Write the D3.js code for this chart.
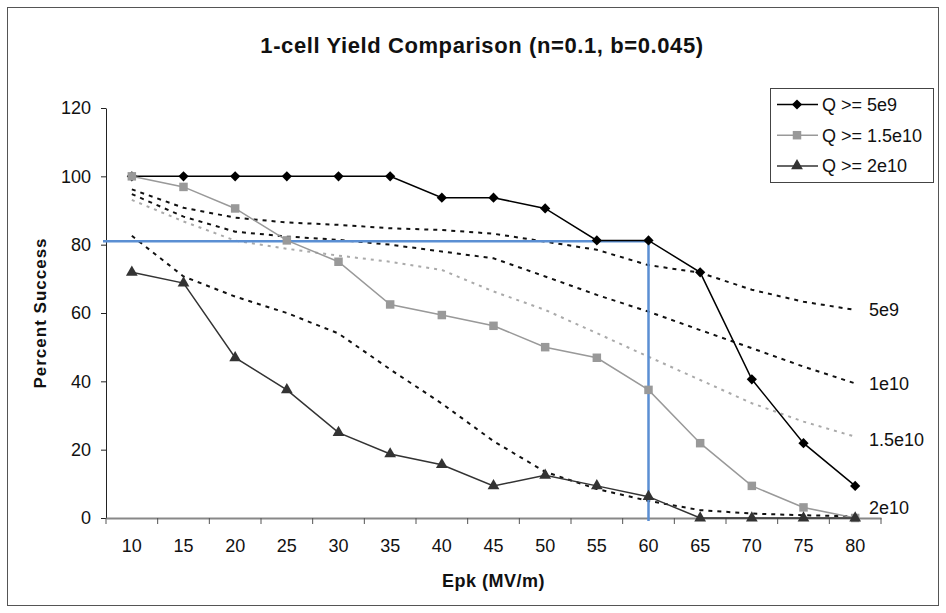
<!DOCTYPE html>
<html>
<head>
<meta charset="utf-8">
<script src="https://cdn.jsdelivr.net/npm/d3@7"></script>
<style>
  body { margin: 0; background: #fff; }
  text { font-family: "Liberation Sans", Arial, sans-serif; fill: #111; }
</style>
</head>
<body>
<svg id="chart" width="946" height="613"></svg>
<script>
// Epk categories (MV/m)
var epk = [10, 15, 20, 25, 30, 35, 40, 45, 50, 55, 60, 65, 70, 75, 80];
var yTicks = [0, 20, 40, 60, 80, 100, 120];

// measured yields (percent success)
var q5e9 = [100, 100, 100, 100, 100, 100, 93.75, 93.75, 90.6, 81.25, 81.25, 71.9, 40.6, 21.9, 9.4];
var q15e10 = [100, 96.9, 90.6, 81.25, 75, 62.5, 59.4, 56.25, 50, 46.9, 37.5, 21.9, 9.4, 3.1, 0];
var q2e10 = [71.9, 68.75, 46.9, 37.5, 25, 18.75, 15.6, 9.4, 12.5, 9.4, 6.25, 0, 0, 0, 0];

// model curves (dotted)
var fit5e9 = [96.2, 90.8, 87.9, 86.5, 85.8, 84.8, 84.3, 83.2, 80.9, 78.5, 74, 71.8, 66.8, 63.3, 60.9];
var fit1e10 = [94.8, 88.2, 83.8, 82.4, 81.4, 80, 78, 76, 70.7, 65.3, 60.4, 55, 49.7, 44.3, 39.4];
var fit15e10 = [93.1, 86.8, 81.2, 78.8, 76.8, 75, 72.6, 66.3, 60.9, 54.1, 47.2, 40.4, 33.6, 28.2, 23.8];
var fit2e10 = [82.6, 70.7, 64.8, 60, 54, 43.5, 33.5, 22.5, 13.5, 8.5, 5, 2.3, 1.3, 0.8, 0.5];

// blue guide: 81% at 60 MV/m
var guideEpk = 60, guideVal = 81;

var svg = d3.select("#chart");
var margin = {left: 106, right: 65, top: 108, bottom: 95};
var W = 946, H = 613;

var x = d3.scaleBand().domain(epk).range([margin.left, W - margin.right]).padding(0);
var y = d3.scaleLinear().domain([0, 120]).range([H - margin.bottom, margin.top]);
function cx(d) { return x(d) + x.bandwidth() / 2; }

// outer frame
svg.append("rect").attr("x", 7.5).attr("y", 7.5).attr("width", 931).attr("height", 598)
	.attr("fill", "none").attr("stroke", "#555").attr("stroke-width", 1);

// title
svg.append("text").attr("x", 482).attr("y", 53).attr("text-anchor", "middle")
	.style("font-size", "22px").style("font-weight", "bold").style("letter-spacing", "0.6px")
	.text("1-cell Yield Comparison (n=0.1, b=0.045)");

// y axis
var yAxis = svg.append("g").attr("transform", "translate(" + margin.left + ",0)")
	.call(d3.axisLeft(y).tickValues(yTicks).tickSize(5).tickPadding(10).tickSizeOuter(0));
yAxis.select(".domain").attr("stroke", "#222");
yAxis.selectAll("line").attr("stroke", "#222");
yAxis.selectAll("text").style("font-size", "18px").attr("fill", "#111").style("font-family", "Liberation Sans, Arial");

// x axis: labels at centers, ticks on band boundaries
var x0 = y(0);
var xAxis = svg.append("g").attr("transform", "translate(0," + x0 + ")")
	.call(d3.axisBottom(x).tickSize(0).tickPadding(21));
xAxis.select(".domain").attr("stroke", "#888").attr("stroke-width", 2);
xAxis.selectAll("text").style("font-size", "18px").attr("fill", "#111").style("font-family", "Liberation Sans, Arial");
var bounds = epk.map(function(d) { return x(d); }).concat([x.range()[1]]);
svg.append("g").selectAll("line").data(bounds).enter().append("line")
	.attr("x1", function(d) { return d; }).attr("x2", function(d) { return d; })
	.attr("y1", x0).attr("y2", x0 + 6).attr("stroke", "#555").attr("stroke-width", 1);

// axis titles
svg.append("text").attr("transform", "translate(46," + (margin.top + H - margin.bottom) / 2 + ") rotate(-90)")
	.attr("text-anchor", "middle").style("font-size", "17px").style("font-weight", "bold")
	.style("letter-spacing", "1px").text("Percent Success");
svg.append("text").attr("x", (margin.left + W - margin.right) / 2).attr("y", 587)
	.attr("text-anchor", "middle").style("font-size", "18px").style("font-weight", "bold")
	.style("letter-spacing", "0.5px").text("Epk (MV/m)");

// dotted model curves
var line = d3.line().x(function(d, i) { return cx(epk[i]); }).y(function(d) { return y(d); });
var fits = [
	{v: fit5e9, c: "#111", dash: "4,5", label: "5e9"},
	{v: fit1e10, c: "#111", dash: "4,5", label: "1e10"},
	{v: fit15e10, c: "#aaa", dash: "3,5", label: "1.5e10"},
	{v: fit2e10, c: "#111", dash: "4,5", label: "2e10"}
];
var labelY = {"5e9": 61, "1e10": 39.4, "1.5e10": 23, "2e10": 3};
fits.forEach(function(f) {
	svg.append("path").attr("d", line(f.v)).attr("fill", "none")
		.attr("stroke", f.c).attr("stroke-width", 2).attr("stroke-dasharray", f.dash);
	svg.append("text").attr("x", 869).attr("y", y(labelY[f.label])).attr("dy", "0.35em")
		.style("font-size", "18px").text(f.label);
});

// blue guide lines
svg.append("path")
	.attr("d", "M" + (margin.left - 3) + "," + y(guideVal) + "H" + cx(guideEpk) + "V" + (x0 + 3))
	.attr("fill", "none").attr("stroke", "#5b8fd3").attr("stroke-width", 2.5);

// measured series
var series = [
	{v: q5e9, c: "#000", fill: "#000", sym: d3.symbolSquare, size: 52, rot: 45, label: "Q >= 5e9"},
	{v: q15e10, c: "#999", fill: "#999", sym: d3.symbolSquare, size: 72, rot: 0, label: "Q >= 1.5e10"},
	{v: q2e10, c: "#333", fill: "#333", sym: d3.symbolTriangle, size: 60, rot: 0, label: "Q >= 2e10"}
];
series.forEach(function(s) {
	svg.append("path").attr("d", line(s.v)).attr("fill", "none")
		.attr("stroke", s.c).attr("stroke-width", 1.5);
	svg.append("g").selectAll("path").data(s.v).enter().append("path")
		.attr("d", d3.symbol(s.sym, s.size))
		.attr("transform", function(d, i) { return "translate(" + cx(epk[i]) + "," + y(d) + ") rotate(" + s.rot + ")"; })
		.attr("fill", s.fill);
});

// legend
var lg = svg.append("g").attr("transform", "translate(770,88)");
lg.append("rect").attr("x", 0.5).attr("y", 0.5).attr("width", 163).attr("height", 94)
	.attr("fill", "#fff").attr("stroke", "#444");
series.forEach(function(s, i) {
	var ry = 16.5 + i * 30.7;
	lg.append("line").attr("x1", 7).attr("x2", 48).attr("y1", ry).attr("y2", ry)
		.attr("stroke", s.c).attr("stroke-width", 1.5);
	lg.append("path").attr("d", d3.symbol(s.sym, s.size))
		.attr("transform", "translate(27," + ry + ") rotate(" + s.rot + ")").attr("fill", s.fill);
	lg.append("text").attr("x", 52).attr("y", ry).attr("dy", "0.36em")
		.style("font-size", "18px").text(s.label);
});
</script>
</body>
</html>
